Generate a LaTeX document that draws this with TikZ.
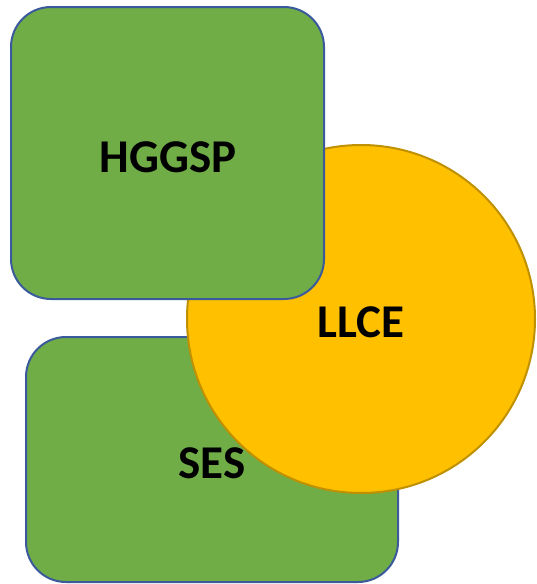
\documentclass[tikz,border=0pt]{standalone}
\usepackage{fontspec}
\setmainfont{Carlito}
\definecolor{boxgreen}{HTML}{70AD47}
\definecolor{boxblue}{HTML}{3A5A9C}
\definecolor{circfill}{HTML}{FFC000}
\definecolor{circline}{HTML}{BF9000}
\begin{document}
\begin{tikzpicture}[x=1pt,y=-1pt,
  box/.style={draw=boxblue,fill=boxgreen,line width=2pt,rounded corners=40pt},
  lbl/.style={font=\fontsize{47}{50}\selectfont\bfseries,text=black,inner sep=0pt}]
\useasboundingbox (0,0) rectangle (536,584);
\draw[box] (26,337) rectangle (398,582);
\draw[draw=circline,fill=circfill,line width=2pt] (361,319) circle[radius=174];
\draw[box] (11,7) rectangle (324,299);
\node[lbl] (hggsp) at (168,157) {HGGSP};
\node[lbl] (llce) at (361,322) {LLCE};
\node[lbl] (ses) at (212,463) {SES};
\end{tikzpicture}
\end{document}
